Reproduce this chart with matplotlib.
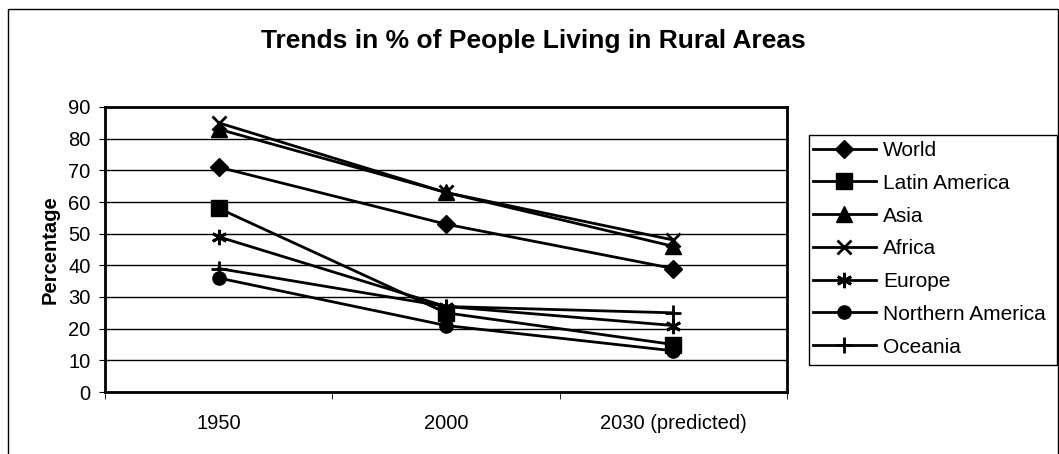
import matplotlib.pyplot as plt
from matplotlib.patches import Rectangle

plt.rcParams['font.family'] = ['Liberation Sans', 'DejaVu Sans']

# Datos
years = ['1950', '2000', '2030 (predicted)']
world = [71, 53, 39]
latin_america = [58, 25, 15]
asia = [83, 63, 46]
africa = [85, 63, 48]
europe = [49, 27, 21]
northern_america = [36, 21, 13]
oceania = [39, 27, 25]

series = [
    ('World', world, 'D', 9),
    ('Latin America', latin_america, 's', 12),
    ('Asia', asia, '^', 11),
    ('Africa', africa, 'x', 10),
    ('Europe', europe, (6, 2, 0), 11),
    ('Northern America', northern_america, 'o', 9.5),
    ('Oceania', oceania, '+', 12),
]

W, H = 1059, 454
fig = plt.figure(figsize=(W / 100, H / 100), dpi=100)
ax = fig.add_axes([105 / W, 1 - 392 / H, 682 / W, 285 / H])

x = range(len(years))
for name, vals, mk, ms in series:
    ax.plot(x, vals, color='black', linewidth=2, marker=mk, markersize=ms,
            markeredgewidth=2 if mk in ('x', '+', (6, 2, 0)) else 1,
            markerfacecolor='black', markeredgecolor='black', label=name)

ax.set_xlim(-0.5, 2.5)
ax.set_ylim(0, 90)
ax.set_yticks(range(0, 91, 10))
ax.yaxis.grid(True, color='black', linewidth=1)
ax.set_axisbelow(True)
ax.set_xticks([0, 1, 2])
ax.set_xticklabels(years, fontsize=14.5)
ax.set_xticks([-0.5, 0.5, 1.5, 2.5], minor=True)
ax.tick_params(axis='x', which='major', length=0, pad=16)
ax.tick_params(axis='x', which='minor', length=5, direction='out')
ax.tick_params(axis='y', labelsize=14.5, length=4.5, pad=6, direction='out')
for s in ax.spines.values():
    s.set_linewidth(2)
ax.set_ylabel('Percentage', fontsize=14.5, fontweight='bold', labelpad=6)

# leyenda sin marco; el marco se dibuja aparte
leg = fig.legend(loc='upper left', bbox_to_anchor=(813 / W, 1 - 141 / H),
                 fontsize=15, frameon=False, handlelength=3.0,
                 borderpad=0.0, borderaxespad=0.0, labelspacing=0.66,
                 handletextpad=0.35)
fig.patches.append(Rectangle((809 / W, 1 - 365 / H), 248 / W, 230 / H,
                             transform=fig.transFigure, fill=False,
                             edgecolor='black', linewidth=1))

fig.text(533 / W, 1 - 48 / H, 'Trends in % of People Living in Rural Areas',
         ha='center', va='baseline', fontsize=19, fontweight='bold')

fig.patches.append(Rectangle((8 / W, -0.01), 1 - 9 / W, 1 - 9 / H + 0.01,
                             transform=fig.transFigure, fill=False,
                             edgecolor='black', linewidth=1))

fig.savefig('out.png', dpi=100)
